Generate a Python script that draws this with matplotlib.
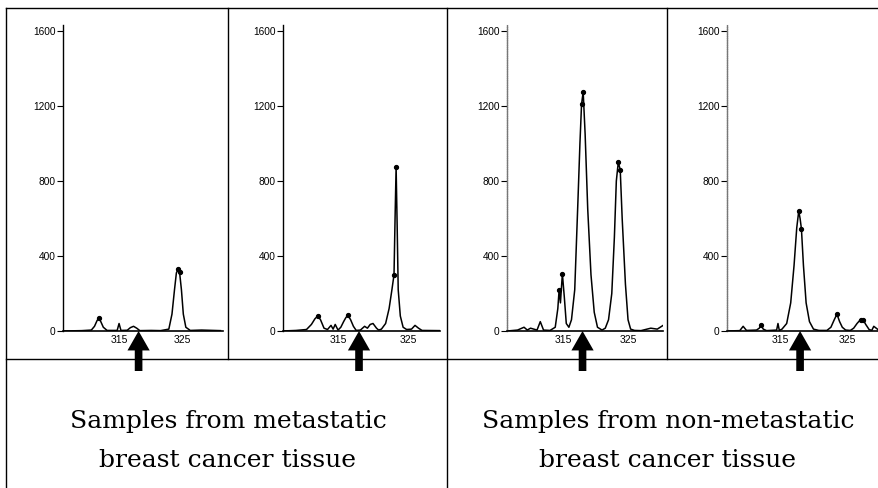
import matplotlib
matplotlib.use("Agg")
import matplotlib.pyplot as plt
from matplotlib.lines import Line2D
from matplotlib.transforms import blended_transform_factory

# ---------------- data ----------------
yticks = [0, 400, 800, 1200, 1600]
xticks = [315, 325]
arrow_size = 318  # fragment size marked by the arrow

# Panel 1: metastatic sample A
p1_x = [306, 309, 310.5, 311.0, 311.4, 311.7, 312.0, 312.4, 313.0, 314.6, 314.9, 315.2,
        316.2, 316.7, 317.2, 317.7, 318.2, 320, 321.5, 322.8, 323.3, 323.7, 324.0, 324.3,
        324.5, 324.8, 325.1, 325.5, 326.2, 328, 331]
p1_y = [0, 2, 5, 25, 55, 70, 50, 20, 3, 3, 40, 3,
        4, 18, 25, 15, 2, 3, 2, 10, 90, 220, 310, 330,
        315, 220, 90, 20, 3, 5, 2]
p1_dx = [311.7, 324.3, 324.5]
p1_dy = [70, 330, 315]

# Panel 2: metastatic sample B
p2_x = [307, 309, 310.5, 311.2, 311.7, 312.1, 312.5, 313.0, 313.5, 314.0, 314.3, 314.6,
        315.0, 315.4, 315.8, 316.1, 316.4, 316.8, 317.2, 317.6, 318.2, 318.8, 319.2, 319.6,
        320.0, 320.5, 320.8, 321.2, 321.8, 322.3, 322.7, 323.0, 323.15, 323.3, 323.45, 323.6,
        323.9, 324.3, 324.8, 325.5, 326.0, 326.5, 327, 329.6]
p2_y = [0, 3, 8, 35, 65, 80, 60, 15, 8, 30, 10, 35,
        5, 20, 50, 70, 85, 60, 25, 3, 5, 25, 15, 35,
        40, 15, 5, 10, 40, 120, 220, 300, 600, 875, 560, 220,
        80, 20, 8, 10, 30, 15, 3, 2]
p2_dx = [312.1, 316.4, 323.0, 323.3]
p2_dy = [80, 85, 300, 875]

# Panel 3: non-metastatic sample A
p3_x = [306.4, 308, 309.0, 309.5, 310.0, 311.0, 311.5, 312.0, 313.0, 313.8, 314.2, 314.4,
        314.6, 314.9, 315.2, 315.5, 315.9, 316.3, 316.8, 317.3, 317.6, 317.85, 318.1, 318.4,
        318.8, 319.3, 319.8, 320.3, 321.0, 321.5, 322.0, 322.5, 322.9, 323.2, 323.5, 323.8,
        324.1, 324.6, 325.0, 325.4, 326.0, 327, 328.5, 329.5, 330.4]
p3_y = [0, 5, 20, 5, 15, 5, 50, 5, 3, 20, 120, 220,
        150, 305, 180, 40, 20, 60, 220, 700, 1000, 1210, 1275, 1050,
        650, 300, 100, 20, 5, 15, 60, 200, 500, 800, 900, 860,
        600, 250, 60, 10, 3, 2, 15, 10, 30]
p3_dx = [314.4, 314.9, 317.85, 318.1, 323.5, 323.8]
p3_dy = [220, 305, 1210, 1275, 900, 860]

# Panel 4: non-metastatic sample B
p4_x = [307, 309, 309.5, 310, 311.5, 311.9, 312.2, 312.5, 313, 314.5, 314.7, 314.9,
        315.3, 316.0, 316.6, 317.1, 317.5, 317.8, 318.0, 318.2, 318.5, 318.9, 319.4, 320.0,
        320.8, 322.0, 322.6, 323.1, 323.5, 323.9, 324.3, 324.8, 325.5, 326.0, 326.5, 327.0,
        327.4, 327.8, 328.3, 328.7, 329.0, 329.8]
p4_y = [0, 2, 25, 3, 5, 15, 30, 10, 2, 5, 40, 3,
        10, 40, 150, 350, 550, 640, 600, 545, 350, 150, 50, 10,
        3, 3, 20, 60, 90, 50, 20, 5, 3, 15, 40, 60,
        60, 35, 8, 3, 25, 3]
p4_dx = [312.2, 317.8, 318.2, 323.5, 327.1, 327.4]
p4_dy = [30, 640, 545, 90, 60, 60]

group_labels = ["Samples from metastatic\nbreast cancer tissue",
                "Samples from non-metastatic\nbreast cancer tissue"]

# ---------------- figure ----------------
W, H = 879, 488
fig = plt.figure(figsize=(W / 100, H / 100), dpi=100)
fig.patch.set_facecolor("white")

def fx(px):
    return px / W

def fy(py):
    return 1 - py / H

panels = [
    dict(x=p1_x, y=p1_y, dx=p1_dx, dy=p1_dy, left=63, right=223, xlim=(306, 331.4), grey=False),
    dict(x=p2_x, y=p2_y, dx=p2_dx, dy=p2_dy, left=283, right=440, xlim=(307.14, 329.57), grey=False),
    dict(x=p3_x, y=p3_y, dx=p3_dx, dy=p3_dy, left=507, right=663, xlim=(306.38, 330.38), grey=True),
    dict(x=p4_x, y=p4_y, dx=p4_dx, dy=p4_dy, left=727, right=879, xlim=(307.09, 329.78), grey=True),
]

top_px, bot_px = 25, 331
for p in panels:
    ax = fig.add_axes([fx(p["left"]), fy(bot_px), (p["right"] - p["left"]) / W,
                       (bot_px - top_px) / H])
    ax.plot(p["x"], p["y"], color="black", lw=1.1, solid_joinstyle="round")
    ax.plot(p["dx"], p["dy"], "o", color="black", ms=2.8)
    ax.set_xlim(*p["xlim"])
    ax.set_ylim(0, 1632)
    ax.set_yticks(yticks)
    ax.set_xticks(xticks)
    ax.tick_params(axis="y", direction="out", length=4.3, width=0.8, pad=1,
                   labelsize=7.3)
    ax.tick_params(axis="x", length=0, pad=3, labelsize=7.5)
    for lab in ax.get_yticklabels() + ax.get_xticklabels():
        lab.set_fontfamily("Liberation Sans")
    for s in ("top", "right"):
        ax.spines[s].set_visible(False)
    ax.spines["bottom"].set_linewidth(1.2)
    if p["grey"]:
        ax.spines["left"].set_color("#777777")
        ax.spines["left"].set_linestyle((0, (1, 0.6)))
        ax.spines["left"].set_linewidth(1.0)
    else:
        ax.spines["left"].set_linewidth(1.0)
    ax.patch.set_alpha(0)
    # arrow marking the fragment of interest
    trans = blended_transform_factory(ax.transData, fig.transFigure)
    ax.annotate("", xy=(arrow_size, 0), xycoords="data",
                xytext=(arrow_size, fy(371)), textcoords=trans,
                annotation_clip=False,
                arrowprops=dict(arrowstyle="simple,head_width=1.6,head_length=1.4,tail_width=0.55",
                                fc="black", ec="black", lw=0, mutation_scale=10,
                                shrinkA=0, shrinkB=0))

# frame lines
lw = 1.0
def hline(py, x0, x1):
    fig.add_artist(Line2D([fx(x0), fx(x1)], [fy(py), fy(py)], color="black", lw=lw))

def vline(px, y0, y1):
    fig.add_artist(Line2D([fx(px), fx(px)], [fy(y0), fy(y1)], color="black", lw=lw))

hline(8, 6, 879)
hline(359, 6, 879)
vline(6, 8, 488)
vline(228, 8, 359)
vline(447, 8, 488)
vline(667, 8, 359)

# group captions
centers = [228, 668]
for cx, lab in zip(centers, group_labels):
    l1, l2 = lab.split("\n")
    fig.text(fx(cx), fy(428), l1, ha="center", va="baseline", fontsize=18,
             family="DejaVu Serif")
    fig.text(fx(cx), fy(467), l2, ha="center", va="baseline", fontsize=18,
             family="DejaVu Serif")

fig.savefig("out.png", dpi=100, facecolor="white")
